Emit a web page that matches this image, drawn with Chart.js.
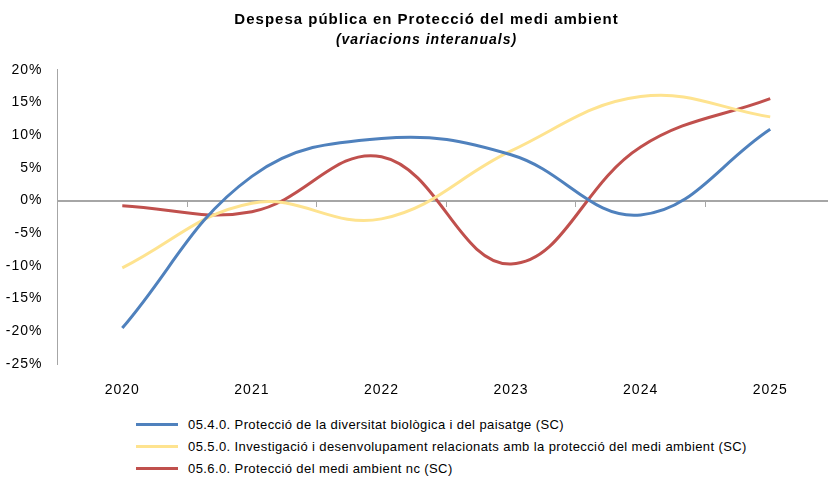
<!DOCTYPE html>
<html>
<head>
<meta charset="utf-8">
<script src="https://cdn.jsdelivr.net/npm/chart.js@4.4.1/dist/chart.umd.min.js"></script>
<style>
  html, body { margin: 0; padding: 0; background: #fff; overflow: hidden; }
  #wrap { position: relative; width: 828px; height: 477px; overflow: hidden; }
  #box { position: absolute; left: 0; top: 0; width: 860px; height: 400px; }
  #leyenda { position: absolute; left: 136px; top: 413px; font-family: "Liberation Sans", Arial, sans-serif; font-size: 13px; letter-spacing: 0.4px; color: #000; }
  #leyenda .item { display: flex; align-items: center; height: 22px; white-space: nowrap; }
  #leyenda .linea { width: 42px; height: 3px; margin-right: 10px; }
</style>
</head>
<body>
<div id="wrap">
  <div id="box"><canvas id="grafico" width="860" height="400"></canvas></div>
  <div id="leyenda"></div>
</div>
<script>
const anios = ['2020', '2021', '2022', '2023', '2024', '2025'];
const diversitat = [-19.5, 3.7, 9.5, 7.0, -2.2, 10.9];
const investigacio = [-10.3, -0.4, -2.8, 7.6, 15.9, 12.8];
const mediAmbientNc = [-0.8, -1.7, 6.7, -9.7, 8.2, 15.6];
const etiquetas = [
  '05.4.0. Protecció de la diversitat biològica i del paisatge (SC)',
  '05.5.0. Investigació i desenvolupament relacionats amb la protecció del medi ambient (SC)',
  '05.6.0. Protecció del medi ambient nc (SC)'
];

const fuente = '"Liberation Sans", Arial, sans-serif';
const gris = '#a6a6a6';

function serie(label, data, color) {
  return { label, data, borderColor: color, backgroundColor: color, borderWidth: 3, pointRadius: 0, tension: 0.4, fill: false };
}

// el texto del original va algo espaciado
const espaciado = {
  id: 'espaciado',
  afterInit: chart => { chart.ctx.letterSpacing = '1px'; },
  beforeDraw: chart => { chart.ctx.letterSpacing = '1px'; },
  afterLayout: chart => {
    // centrar el título sobre la imagen y no sobre el canvas
    chart.boxes.forEach(b => {
      if (b.options && b.options.text !== undefined && b.position === 'top') {
        b.left += 9;
        b.right += 9;
      }
    });
  }
};

const chart = new Chart(document.getElementById('grafico'), {
  type: 'line',
  data: {
    labels: anios,
    datasets: [
      serie(etiquetas[0], diversitat, '#4f81bd'),
      serie(etiquetas[1], investigacio, '#fee38f'),
      serie(etiquetas[2], mediAmbientNc, '#c0504d')
    ]
  },
  plugins: [espaciado],
  options: {
    responsive: false,
    animation: false,
    layout: { padding: { left: 0, right: 25, top: 0, bottom: 0 } },
    plugins: {
      legend: { display: false },
      tooltip: { enabled: false },
      title: {
        display: true,
        text: 'Despesa pública en Protecció del medi ambient',
        color: '#000',
        font: { family: fuente, size: 15, weight: 'bold' },
        padding: { top: 11, bottom: 3 }
      },
      subtitle: {
        display: true,
        text: '(variacions interanuals)',
        color: '#000',
        font: { family: fuente, size: 14, style: 'italic', weight: 'bold' },
        padding: { top: 0, bottom: 21 }
      }
    },
    scales: {
      x: {
        offset: true,
        grid: { display: false },
        border: { display: false },
        ticks: { color: '#000', font: { family: fuente, size: 14 }, padding: 10 },
        afterFit: s => { s.height = 36; }
      },
      // eje en el 0% con marcas entre categorías
      x2: {
        type: 'category',
        position: { y: 0 },
        offset: true,
        grid: { offset: true, drawOnChartArea: false, tickLength: 5, color: gris, lineWidth: 1 },
        border: { display: true, color: gris, width: 2 },
        ticks: { display: false }
      },
      y: {
        min: -25,
        max: 20,
        ticks: { stepSize: 5, color: '#000', font: { family: fuente, size: 14 }, padding: 15, callback: v => v + '%' },
        grid: { display: false, drawTicks: false },
        border: { display: true, color: gris, width: 1 },
        afterFit: s => { s.width = 57.5; }
      }
    }
  }
});

document.getElementById('leyenda').innerHTML = chart.data.datasets.map(d => `
  <div class="item"><span class="linea" style="background:${d.borderColor}"></span><span>${d.label}</span></div>
`).join('');
</script>
</body>
</html>
